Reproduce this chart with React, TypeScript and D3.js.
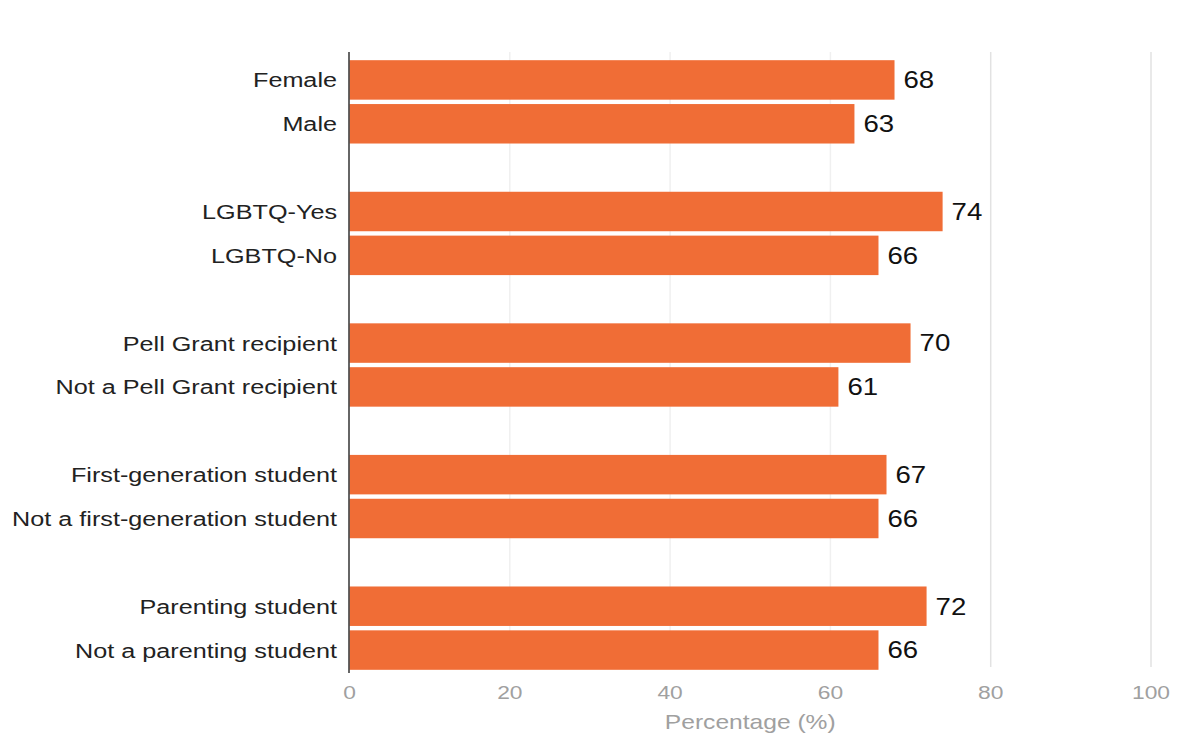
import React from "react";
import * as d3 from "d3";

// Share of students, by group (%)
const categories: string[] = [
  "Female",
  "Male",
  "LGBTQ-Yes",
  "LGBTQ-No",
  "Pell Grant recipient",
  "Not a Pell Grant recipient",
  "First-generation student",
  "Not a first-generation student",
  "Parenting student",
  "Not a parenting student",
];
const values: number[] = [68, 63, 74, 66, 70, 61, 67, 66, 72, 66];
// Categories are shown in pairs, separated by an empty row
const groupSizes: number[] = [2, 2, 2, 2, 2];
const xTicks: number[] = [0, 20, 40, 60, 80, 100];
const xTitle = "Percentage (%)";

const W = 1180;
const H = 740;
const FONT = "'Liberation Sans', Arial, Helvetica, sans-serif";
const BAR = "#F06D36";
const SX = 1.2; // horizontal text stretch

export default function App() {
  // Build row slots with spacers between groups
  const slots: string[] = [];
  let k = 0;
  groupSizes.forEach((n, gi) => {
    for (let i = 0; i < n; i++) slots.push(categories[k++]);
    if (gi < groupSizes.length - 1) slots.push(`__gap${gi}`);
  });

  const x = d3.scaleLinear().domain([0, 100]).range([349.5, 1151]);
  const y = d3
    .scaleBand<string>()
    .domain(slots)
    .range([58, 672])
    .paddingInner(0.1)
    .paddingOuter(0.05);

  const axisTop = 52;
  const axisBottom = 673;

  return (
    <div style={{ position: "absolute", left: 0, top: 0 }}>
      <svg width={W} height={H} style={{ display: "block", background: "#fff" }}>
        {/* vertical grid */}
        {xTicks
          .filter((t) => t > 0)
          .map((t) => (
            <line
              key={`g${t}`}
              x1={x(t)}
              x2={x(t)}
              y1={axisTop}
              y2={axisBottom - 6}
              stroke={t >= 80 ? "#e2e2e2" : "#f0f0f0"}
              strokeWidth={1.5}
            />
          ))}

        {/* bars */}
        {categories.map((c, i) => (
          <rect
            key={c}
            x={x(0)}
            y={y(c)!}
            width={x(values[i]) - x(0)}
            height={y.bandwidth()}
            fill={BAR}
          />
        ))}

        {/* value labels */}
        {categories.map((c, i) => (
          <text
            key={`v${c}`}
            transform={`translate(${x(values[i]) + 9},${y(c)! + y.bandwidth() / 2}) scale(${SX},1)`}
            dy="0.36em"
            fontFamily={FONT}
            fontSize={23}
            fill="#111"
          >
            {values[i]}
          </text>
        ))}

        {/* category labels */}
        {categories.map((c) => (
          <text
            key={`c${c}`}
            transform={`translate(337,${y(c)! + y.bandwidth() / 2}) scale(${SX},1)`}
            dy="0.36em"
            textAnchor="end"
            fontFamily={FONT}
            fontSize={21}
            fill="#222"
          >
            {c}
          </text>
        ))}

        {/* y axis line */}
        <line x1={349} x2={349} y1={axisTop} y2={axisBottom} stroke="#333" strokeWidth={1.5} />

        {/* x tick labels */}
        {xTicks.map((t) => (
          <text
            key={`t${t}`}
            transform={`translate(${x(t)},${692}) scale(${SX},1)`}
            dy="0.36em"
            textAnchor="middle"
            fontFamily={FONT}
            fontSize={19}
            fill="#a0a0a0"
          >
            {t}
          </text>
        ))}

        {/* x axis title */}
        <text
          transform={`translate(${(x(0) + x(100)) / 2},${722}) scale(${SX},1)`}
          dy="0.36em"
          textAnchor="middle"
          fontFamily={FONT}
          fontSize={20.5}
          fill="#a0a0a0"
        >
          {xTitle}
        </text>
      </svg>
    </div>
  );
}
